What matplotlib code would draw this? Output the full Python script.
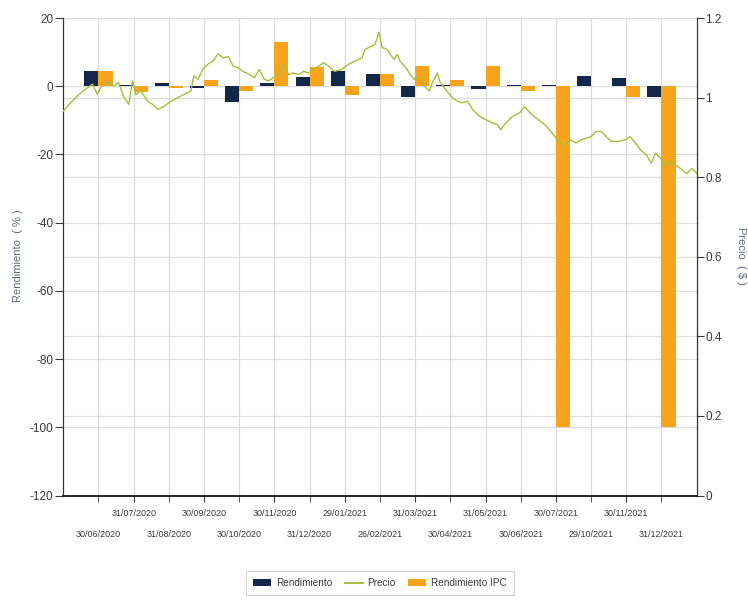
import matplotlib
matplotlib.use("Agg")
import matplotlib.pyplot as plt
import numpy as np
from matplotlib.patches import Patch
from matplotlib.lines import Line2D
from matplotlib.transforms import blended_transform_factory

plt.rcParams['font.family'] = ['Liberation Sans', 'DejaVu Sans']
plt.rcParams['axes.unicode_minus'] = False

# ---- data ----
dates = ["30/06/2020", "31/07/2020", "31/08/2020", "30/09/2020", "30/10/2020",
         "30/11/2020", "31/12/2020", "29/01/2021", "26/02/2021", "31/03/2021",
         "30/04/2021", "31/05/2021", "30/06/2021", "30/07/2021", "29/10/2021",
         "30/11/2021", "31/12/2021"]
rendimiento = [4.45, 0.3, 0.9, -0.6, -4.6, 0.9, 2.6, 4.6, 3.7, -3.1,
               0.3, -0.9, 0.3, 0.3, 3.1, 2.4, -3.1]
rendimiento_ipc = [4.45, -1.6, -0.6, 1.7, -1.3, 12.9, 5.6, -2.5, 3.7, 6.0,
                   1.7, 6.0, -1.3, -100.0, 0.2, -3.2, -100.0]

# price series: time in month-index units, value in $
precio_t = [-1.0, -0.886, -0.60, -0.43, -0.17, -0.03, 0.06, 0.26, 0.43, 0.57,
            0.71, 0.86, 0.97, 1.06, 1.20, 1.40, 1.54, 1.69, 1.86, 2.06,
            2.26, 2.43, 2.63, 2.71, 2.83, 2.97, 3.11, 3.26, 3.40, 3.54,
            3.69, 3.83, 3.97, 4.11, 4.29, 4.43, 4.57, 4.71, 4.83, 4.97,
            5.11, 5.26, 5.40, 5.54, 5.69, 5.83, 5.97, 6.11, 6.26, 6.40,
            6.54, 6.71, 6.91, 7.11, 7.29, 7.49, 7.57, 7.77, 7.86, 7.97,
            8.06, 8.20, 8.29, 8.40, 8.49, 8.57, 8.69, 8.77, 8.86, 8.97,
            9.06, 9.20, 9.40, 9.49, 9.63, 9.71, 9.86, 10.06, 10.20, 10.34,
            10.49, 10.63, 10.83, 11.00, 11.20, 11.34, 11.43, 11.57, 11.77, 11.97,
            12.11, 12.26, 12.43, 12.63, 12.77, 12.97, 13.11, 13.26, 13.40, 13.57,
            13.71, 13.86, 14.00, 14.14, 14.29, 14.43, 14.57, 14.77, 14.97, 15.11,
            15.26, 15.40, 15.57, 15.71, 15.83, 15.97, 16.11, 16.26, 16.40, 16.54,
            16.71, 16.86, 16.97, 17.0]
precio = [0.966, 0.978, 1.004, 1.017, 1.034, 1.008, 1.025, 1.038, 1.029, 1.038,
          1.004, 0.983, 1.042, 1.008, 1.017, 0.991, 0.983, 0.970, 0.978, 0.991,
          1.000, 1.008, 1.017, 1.055, 1.046, 1.072, 1.084, 1.093, 1.110, 1.100,
          1.103, 1.079, 1.075, 1.066, 1.058, 1.050, 1.071, 1.046, 1.042, 1.050,
          1.058, 1.084, 1.058, 1.062, 1.058, 1.066, 1.062, 1.071, 1.079, 1.088,
          1.079, 1.066, 1.071, 1.084, 1.092, 1.100, 1.121, 1.130, 1.134, 1.164,
          1.126, 1.121, 1.109, 1.096, 1.109, 1.092, 1.079, 1.071, 1.058, 1.046,
          1.055, 1.034, 1.017, 1.038, 1.062, 1.038, 1.021, 1.000, 0.991, 0.987,
          0.991, 0.970, 0.953, 0.945, 0.936, 0.932, 0.919, 0.936, 0.953, 0.962,
          0.978, 0.962, 0.949, 0.936, 0.924, 0.902, 0.886, 0.881, 0.894, 0.886,
          0.894, 0.898, 0.902, 0.915, 0.915, 0.902, 0.890, 0.890, 0.894, 0.902,
          0.886, 0.869, 0.856, 0.835, 0.860, 0.848, 0.830, 0.839, 0.830, 0.822,
          0.809, 0.822, 0.813, 0.809]

NAVY = "#15264b"
ORANGE = "#f7a41d"
GREEN = "#a9bd3c"
GRID = "#dcdcdc"
TXT = "#3a3a3a"
LBL = "#5f6b78"

fig = plt.figure(figsize=(7.48, 6.01), dpi=100)
ax = fig.add_axes([0.0846, 0.1755, 0.8468, 0.7945])
ax2 = ax.twinx()

x = np.arange(len(dates))
w = 0.4
ax.bar(x - w / 2, rendimiento, width=w, color=NAVY, zorder=2)
ax.bar(x + w / 2, rendimiento_ipc, width=w, color=ORANGE, zorder=2)

ax.set_xlim(-1, 17)
ax.set_ylim(-120, 20)
ax.set_yticks(np.arange(-120, 21, 20))
ax2.set_ylim(0, 1.2)
ax2.set_yticks([0, 0.2, 0.4, 0.6, 0.8, 1.0, 1.2])
ax2.set_yticklabels(["0", "0.2", "0.4", "0.6", "0.8", "1", "1.2"])

# grid lines (all behind bars)
ax.set_axisbelow(True)
ax.grid(True, axis='both', color=GRID, linewidth=0.9)
ax2.grid(False)
tr = blended_transform_factory(ax.transAxes, ax2.transData)
for t in [0.2, 0.4, 0.6, 0.8, 1.0]:
    ax.plot([0, 1], [t, t], transform=tr, color=GRID, linewidth=0.9, zorder=0.5)

ax2.plot(precio_t, precio, color=GREEN, linewidth=1.0, zorder=3)

# x ticks in two rows
odd = x[1::2]
even = x[0::2]
ax.set_xticks(odd)
ax.set_xticklabels([dates[i] for i in odd])
ax.set_xticks(even, minor=True)
ax.set_xticklabels([dates[i] for i in even], minor=True)
ax.xaxis.grid(True, which='both', color=GRID, linewidth=0.9)
ax.tick_params(axis='x', which='major', length=4, pad=6, labelsize=6.5, colors=TXT)
ax.tick_params(axis='x', which='minor', length=4, pad=21, labelsize=6.5, colors=TXT)
ax.tick_params(axis='y', length=6, labelsize=8.5, colors=TXT, pad=1)
ax2.tick_params(axis='y', length=5, labelsize=8.5, colors=TXT, pad=1)

for a in (ax, ax2):
    a.spines['top'].set_visible(False)
    a.spines['left'].set_color('#333333')
    a.spines['right'].set_color('#333333')
    a.spines['bottom'].set_color('#222222')
    a.spines['bottom'].set_linewidth(1.2)

fig.text(0.024, 0.574, "Rendimiento  ( % )", color=LBL, fontsize=8, rotation=90,
         ha='center', va='center')
fig.text(0.990, 0.574, "Precio  ( $ )", color=LBL, fontsize=8, rotation=270,
         ha='center', va='center')

handles = [Patch(facecolor=NAVY, edgecolor='none', label="Rendimiento"),
           Line2D([0], [0], color=GREEN, linewidth=1.5, label="Precio"),
           Patch(facecolor=ORANGE, edgecolor='none', label="Rendimiento IPC")]
leg = fig.legend(handles=handles, loc='center', bbox_to_anchor=(0.508, 0.030), ncol=3,
                 frameon=True, fancybox=False, edgecolor='#c8c8c8', fontsize=7.2,
                 handlelength=1.8, handleheight=0.6, columnspacing=1.2, handletextpad=0.5,
                 borderpad=0.7)
leg.get_frame().set_linewidth(0.8)
for t in leg.get_texts():
    t.set_color(TXT)

fig.savefig("out.png", dpi=100)
